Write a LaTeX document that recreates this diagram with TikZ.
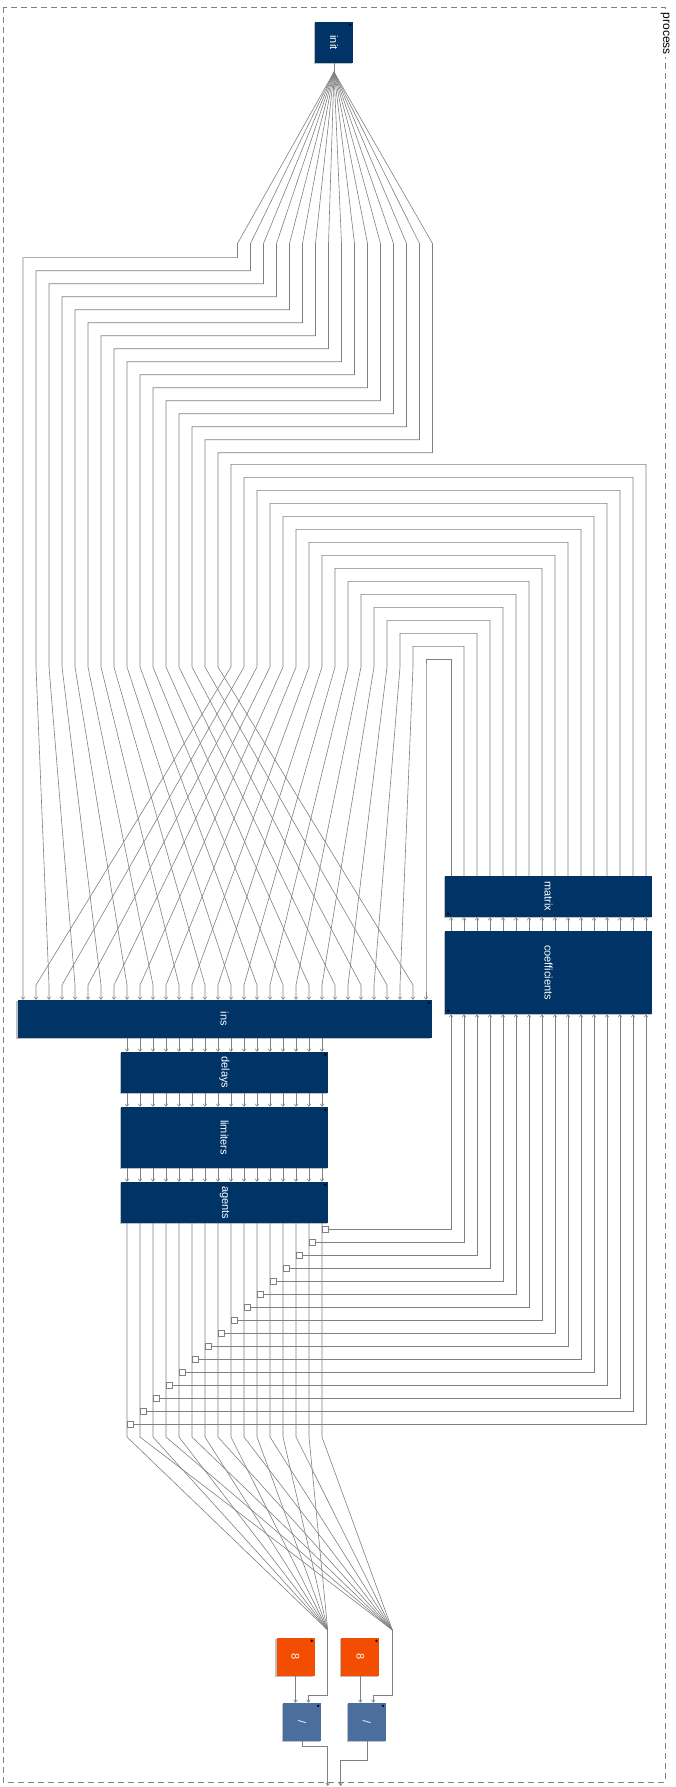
\documentclass[tikz,border=0pt]{standalone}
\usepackage{fontspec}
\setmainfont{Liberation Sans}
\usetikzlibrary{arrows.meta, shadows}

\definecolor{blocknavy}{HTML}{003366}
\definecolor{blockorange}{HTML}{F24D00}
\definecolor{blocksteel}{HTML}{4A6E9E}

\begin{document}
\begin{tikzpicture}[
    x=1pt, y=-1pt,
    block/.style={rectangle, inner sep=0pt, text=white, font=\fontsize{11}{13}\selectfont,
        drop shadow={shadow xshift=-1.2pt, shadow yshift=-1.2pt, fill=black, opacity=.25}},
    sysblock/.style={block, fill=blocknavy},
    constblock/.style={block, fill=blockorange, minimum width=38pt, minimum height=38pt},
    divblock/.style={block, fill=blocksteel, minimum width=38pt, minimum height=38pt},
    wire/.style={draw=black!50, line width=0.6pt},
    arrow/.style={wire, -{Straight Barb[length=2.5pt,width=3.6pt]}},
    tap/.style={rectangle, draw=black!50, fill=white, line width=0.5pt, inner sep=0pt, minimum size=6.5pt},
    frame/.style={draw=black!50, dash pattern=on 6pt off 4pt, line width=0.6pt}
]
\useasboundingbox (0,0) rectangle (676,1787);

% subsystem frame
\draw[frame] (3,7) rectangle (665,1782);
\node[fill=white, inner sep=1.5pt, font=\fontsize{12}{14}\selectfont] (process) at (665,34) {\rotatebox{-90}{process}};

% blocks
\node[sysblock, minimum width=38pt, minimum height=41pt] (init) at (334,42.5) {\rotatebox{-90}{init}};
\node[sysblock, minimum width=414pt, minimum height=38pt] (ins) at (224.5,1019) {\rotatebox{-90}{ins}};
\node[sysblock, minimum width=207pt, minimum height=41pt] (delays) at (224.5,1072.5) {\rotatebox{-90}{delays}};
\node[sysblock, minimum width=207pt, minimum height=61pt] (limiters) at (224.5,1137.5) {\rotatebox{-90}{limiters}};
\node[sysblock, minimum width=207pt, minimum height=41pt] (agents) at (224.5,1202.5) {\rotatebox{-90}{agents}};
\node[sysblock, minimum width=207pt, minimum height=41pt] (matrix) at (548.5,896.5) {\rotatebox{-90}{matrix}};
\node[sysblock, minimum width=207pt, minimum height=83pt] (coefficients) at (548.5,972.5) {\rotatebox{-90}{coefficients}};
\node[constblock] (const1) at (295.5,1657) {\rotatebox{-90}{8}};
\node[constblock] (const2) at (360.3,1657) {\rotatebox{-90}{8}};
\node[divblock] (div1) at (302,1722) {\rotatebox{-90}{/}};
\node[divblock] (div2) at (366.8,1722) {\rotatebox{-90}{/}};

\foreach \b in {init,ins,delays,limiters,agents,const1,const2,div1,div2}
    \fill ([shift={(-3pt,-3pt)}]\b.north east) circle (1.3pt);
\foreach \b in {matrix,coefficients}
    \fill ([shift={(3.5pt,3.5pt)}]\b.south west) circle (1.3pt);

% bus points and outports
\coordinate (initbus) at (334,72);
\coordinate (busA) at (327.7,1630);
\coordinate (busB) at (392.3,1630);
\coordinate (out1) at (327.7,1786);
\coordinate (out2) at (340.7,1786);

% init -> ins (even inputs)
\draw[wire] (init.south) -- (initbus);
\foreach \j in {0,...,15}{
    \pgfmathsetmacro\xfan{237.5+13*\j}
    \pgfmathsetmacro\yturn{257.7+13*\j}
    \pgfmathsetmacro\xpos{23+13*\j}
    \pgfmathsetmacro\xin{23+26*\j}
    \draw[arrow] (initbus) -- (\xfan,243.5) -- (\xfan,\yturn) -- (\xpos,\yturn)
        -- (\xpos,667) -- (\xin,985) -- (ins.north -| \xin,0);
}

% matrix -> ins (odd inputs), coefficients -> matrix
\foreach \n in {0,...,15}{
    \pgfmathsetmacro\xm{451+13*\n}
    \pgfmathsetmacro\yturn{659.3-13*\n}
    \pgfmathsetmacro\xpos{23+13*(31-\n)}
    \pgfmathsetmacro\xin{23+13*(31-2*\n)}
    \draw[arrow] (matrix.north -| \xm,0) -- (\xm,\yturn) -- (\xpos,\yturn)
        -- (\xpos,667) -- (\xin,985) -- (ins.north -| \xin,0);
    \draw[arrow] (coefficients.north -| \xm,0) -- (matrix.south -| \xm,0);
}

% ins -> delays -> limiters -> agents
\foreach \k in {0,...,15}{
    \pgfmathsetmacro\xa{127+13*\k}
    \draw[arrow] (ins.south -| \xa,0) -- (delays.north -| \xa,0);
    \draw[arrow] (delays.south -| \xa,0) -- (limiters.north -| \xa,0);
    \draw[arrow] (limiters.south -| \xa,0) -- (agents.north -| \xa,0);
}

% agents -> buses, taps -> coefficients
\foreach \k in {0,...,15}{
    \pgfmathsetmacro\xa{127+13*\k}
    \pgfmathsetmacro\ytap{1229.3+13*(15-\k)}
    \pgfmathsetmacro\xc{451+13*(15-\k)}
    \pgfmathtruncatemacro\isodd{mod(\k,2)}
    \ifnum\isodd=0 \def\busname{busA}\else\def\busname{busB}\fi
    \draw[wire] (agents.south -| \xa,0) -- (\xa,1437) -- (\busname);
    \node[tap] (tap\k) at (\xa+3.3,\ytap) {};
    \draw[arrow] (tap\k.east) -| (coefficients.south -| \xc,0);
}

% divisions and outputs
\draw[arrow] (busA) -- (327.7,1695.7) -| (div1.north -| 308.5,0);
\draw[arrow] (busB) -- (392.3,1695.7) -| (div2.north -| 373.3,0);
\draw[arrow] (const1.south) -- (div1.north -| const1.south);
\draw[arrow] (const2.south) -- (div2.north -| const2.south);
\draw[arrow] (div1.south) -- (302,1746.7) -| (out1);
\draw[arrow] (div2.south) -- (366.8,1760) -| (out2);
\end{tikzpicture}
\end{document}
